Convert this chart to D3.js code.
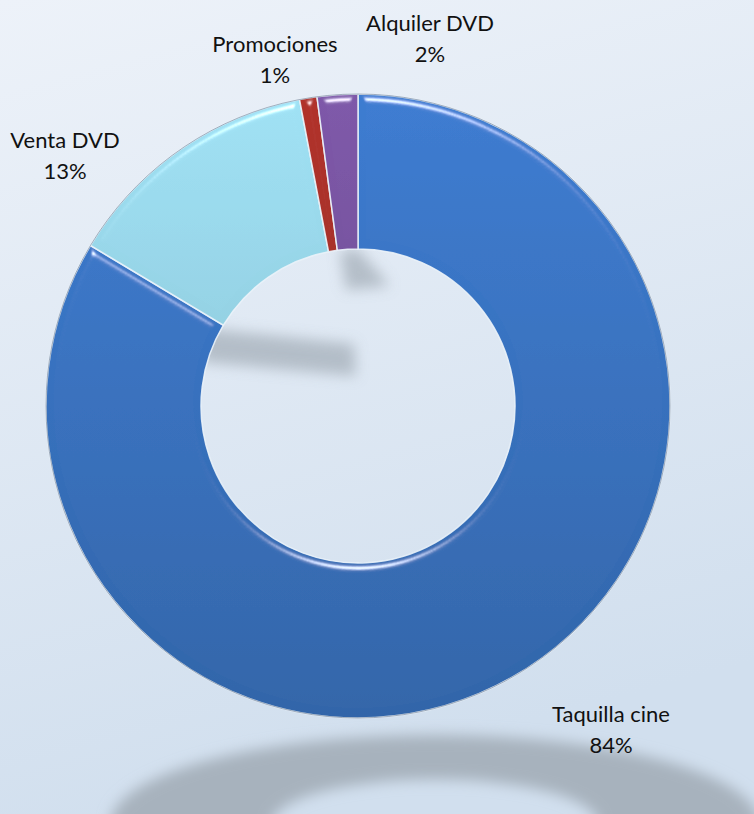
<!DOCTYPE html>
<html>
<head>
<meta charset="utf-8">
<script src="https://cdn.jsdelivr.net/npm/d3@7"></script>
<style>
  html, body { margin: 0; padding: 0; overflow: hidden; }
  svg { display: block; }
  .lbl { font-family: Lato, "Open Sans", sans-serif; font-size: 22px; fill: #111; }
</style>
</head>
<body>
<div class="chart"></div>
<script>
// data
var categories = ['Taquilla cine', 'Venta DVD', 'Promociones', 'Alquiler DVD'];
var shares = [83.6, 13.4, 0.9, 2.1];
var sliceColors = ['#3a76c6', '#98d6e8', '#a8302a', '#7753a0'];

var width = 754;
var height = 814;
var cx = 358, cy = 406;
var outerR = 312, innerR = 157;

// label anchors (centre x, first baseline), same order as categories
var labelAt = [[611, 722], [65, 148], [275, 52], [430, 31]];

var svg = d3.select('.chart').append('svg')
  .attr('width', width).attr('height', height);

var defs = svg.append('defs');

var bg = defs.append('linearGradient').attr('id', 'bg')
  .attr('x1', 0).attr('y1', 0).attr('x2', 0.25).attr('y2', 1);
bg.append('stop').attr('offset', 0).attr('stop-color', '#edf2f9');
bg.append('stop').attr('offset', 1).attr('stop-color', '#d1dfee');

// vertical gradient for each slice colour (ring-local coordinates)
sliceColors.forEach(function (c, i) {
  var g = defs.append('linearGradient').attr('id', 'sg' + i)
    .attr('gradientUnits', 'userSpaceOnUse')
    .attr('x1', 0).attr('y1', -outerR).attr('x2', 0).attr('y2', outerR);
  g.append('stop').attr('offset', 0).attr('stop-color', d3.color(c).brighter(0.15));
  g.append('stop').attr('offset', 1).attr('stop-color', d3.color(c).darker(0.45));
});

var blur = defs.append('filter').attr('id', 'blur')
  .attr('x', '-20%').attr('y', '-40%').attr('width', '140%').attr('height', '180%');
blur.append('feGaussianBlur').attr('stdDeviation', 7);

var bevel = defs.append('filter').attr('id', 'bevel');
bevel.append('feGaussianBlur').attr('in', 'SourceAlpha').attr('stdDeviation', 4).attr('result', 'b');
var spec = bevel.append('feSpecularLighting').attr('in', 'b')
  .attr('surfaceScale', 6).attr('specularConstant', 1).attr('specularExponent', 55)
  .attr('lighting-color', '#ffffff').attr('result', 'spec');
spec.append('feDistantLight').attr('azimuth', 270).attr('elevation', 40);
bevel.append('feComposite').attr('in', 'spec').attr('in2', 'SourceAlpha')
  .attr('operator', 'in').attr('result', 'specIn');
bevel.append('feComposite').attr('in', 'SourceGraphic').attr('in2', 'specIn')
  .attr('operator', 'arithmetic').attr('k1', 0).attr('k2', 1).attr('k3', 0.8).attr('k4', 0);

svg.append('rect').attr('width', width).attr('height', height).attr('fill', 'url(#bg)');

var pie = d3.pie().sort(null).value(function (d) { return d; });
var arc = d3.arc().innerRadius(innerR).outerRadius(outerR);
var arcs = pie(shares);

// floor shadow of the ring: the same annulus, squashed
svg.append('g').attr('filter', 'url(#blur)')
  .append('path')
  .attr('transform', 'translate(' + (cx + 77) + ',' + (cy + 418) + ') scale(1.04,0.285)')
  .attr('fill', '#a7b2bd')
  .attr('d', arc({ startAngle: 0, endAngle: 2 * Math.PI }));

// shadows cast inside the hole by the upper slices
var hole = svg.append('g').attr('filter', 'url(#blur)').attr('fill', '#a9b3bd').attr('opacity', 0.8);
hole.append('path').attr('d', d3.line()([
  [cx - innerR, cy - 78], [cx - 4, cy - 62], [cx - 2, cy - 30], [cx - innerR, cy - 44]
]));
hole.append('path').attr('d', d3.line()([
  [cx - 18, cy - innerR + 2], [cx, cy - innerR], [cx + 32, cy - 120], [cx - 12, cy - 116]
]));

var ring = svg.append('g').attr('transform', 'translate(' + cx + ',' + cy + ')');

ring.selectAll('path.slice').data(arcs).enter().append('path')
  .attr('class', 'slice')
  .attr('d', arc)
  .attr('fill', function (d, i) { return 'url(#sg' + i + ')'; })
  .attr('stroke', 'rgba(235,243,250,0.9)')
  .attr('stroke-width', 1.5)
  .attr('filter', 'url(#bevel)');

// thin dark rim on the outside
ring.append('circle').attr('r', outerR).attr('fill', 'none')
  .attr('stroke', 'rgba(30,50,80,0.35)').attr('stroke-width', 1);

var labels = svg.selectAll('text.lbl').data(arcs).enter().append('text')
  .attr('class', 'lbl')
  .attr('text-anchor', 'middle')
  .attr('x', function (d, i) { return labelAt[i][0]; })
  .attr('y', function (d, i) { return labelAt[i][1]; });

labels.append('tspan').text(function (d, i) { return categories[i]; });
labels.append('tspan')
  .attr('x', function (d, i) { return labelAt[i][0]; })
  .attr('dy', 31)
  .text(function (d) { return Math.round(d.data) + '%'; });
</script>
</body>
</html>
